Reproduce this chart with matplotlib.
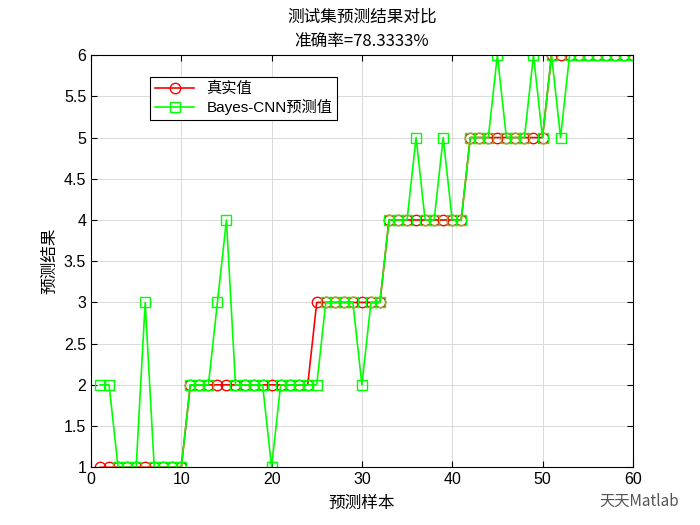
import matplotlib
matplotlib.use("Agg")
import matplotlib.pyplot as plt
import numpy as np

plt.rcParams['font.family'] = ['Liberation Sans', 'Noto Sans CJK SC', 'DejaVu Sans']

sample_idx = list(range(1, 61))
true_vals = [1, 1, 1, 1, 1, 1, 1, 1, 1, 1,
             2, 2, 2, 2, 2, 2, 2, 2, 2, 2,
             2, 2, 2, 2, 3, 3, 3, 3, 3, 3,
             3, 3, 4, 4, 4, 4, 4, 4, 4, 4,
             4, 5, 5, 5, 5, 5, 5, 5, 5, 5,
             6, 6, 6, 6, 6, 6, 6, 6, 6, 6]
pred_vals = [2, 2, 1, 1, 1, 3, 1, 1, 1, 1,
             2, 2, 2, 3, 4, 2, 2, 2, 2, 1,
             2, 2, 2, 2, 2, 3, 3, 3, 3, 2,
             3, 3, 4, 4, 4, 5, 4, 4, 5, 4,
             4, 5, 5, 5, 6, 5, 5, 5, 6, 5,
             6, 5, 6, 6, 6, 6, 6, 6, 6, 6]

x_ticks = [0, 10, 20, 30, 40, 50, 60]
y_ticks = [1, 1.5, 2, 2.5, 3, 3.5, 4, 4.5, 5, 5.5, 6]

accuracy = np.mean(np.array(true_vals) == np.array(pred_vals)) * 100

fig = plt.figure(figsize=(7, 5.25), dpi=100)
ax = fig.add_axes([0.13, 0.11, 0.774, 0.785])

ax.plot(sample_idx, true_vals, color='red', marker='o', markerfacecolor='none',
        markersize=7.5, linewidth=1.2, label='真实值')
ax.plot(sample_idx, pred_vals, color=(0, 1, 0), marker='s', markerfacecolor='none',
        markersize=7.5, linewidth=1.2, label='Bayes-CNN预测值')

ax.set_xlim(0, 60)
ax.set_ylim(1, 6)
ax.set_xticks(x_ticks)
ax.set_yticks(y_ticks)
ax.set_yticklabels([f"{v:g}" for v in y_ticks])
ax.tick_params(direction='in', labelsize=11.5, top=True, right=True, length=4)
ax.grid(True, color='#d9d9d9', linewidth=0.7)
ax.set_axisbelow(True)
for s in ax.spines.values():
    s.set_linewidth(0.8)

ax.set_xlabel('预测样本', fontsize=12, family=['Noto Sans CJK SC'], labelpad=6)
ax.set_ylabel('预测结果', fontsize=12, family=['Noto Sans CJK SC'])
ax.set_title(f'测试集预测结果对比\n准确率={accuracy:.4f}%', fontsize=12,
             linespacing=1.6, family=['Noto Sans CJK SC', 'Liberation Sans'])

leg = ax.legend(loc='upper left', bbox_to_anchor=(0.109, 0.947), borderaxespad=0,
                fontsize=11, fancybox=False, edgecolor='black', framealpha=1,
                handlelength=2.6, borderpad=0.3, labelspacing=0.2)
leg.get_frame().set_linewidth(0.8)

fig.text(0.97, 0.045, '天天Matlab', fontsize=11, color='#555555', ha='right',
         va='center', family=['Noto Sans CJK SC', 'Liberation Sans'])

fig.savefig('out.png', dpi=100)
